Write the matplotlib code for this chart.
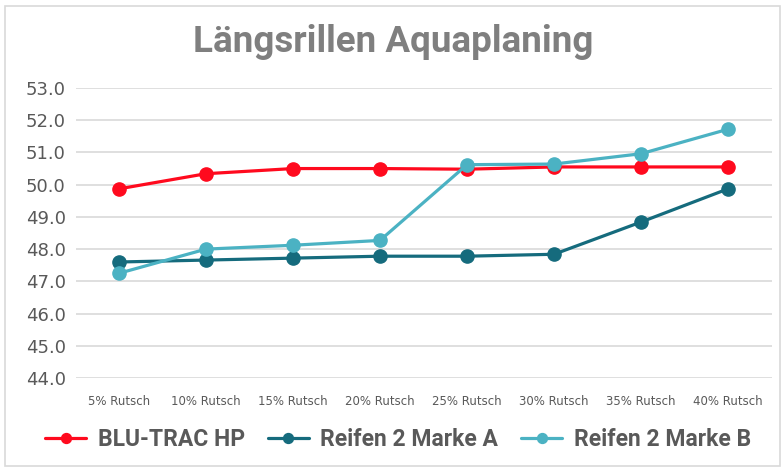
import matplotlib
matplotlib.use('Agg')
import matplotlib.pyplot as plt
from matplotlib.patches import Rectangle

categories = ['5% Rutsch', '10% Rutsch', '15% Rutsch', '20% Rutsch',
              '25% Rutsch', '30% Rutsch', '35% Rutsch', '40% Rutsch']
blu_trac = [49.87, 50.34, 50.50, 50.50, 50.48, 50.55, 50.55, 50.55]
marke_a = [47.60, 47.66, 47.72, 47.78, 47.78, 47.84, 48.84, 49.87]
marke_b = [47.25, 48.00, 48.12, 48.27, 50.62, 50.64, 50.96, 51.72]
yticks = [44.0, 45.0, 46.0, 47.0, 48.0, 49.0, 50.0, 51.0, 52.0, 53.0]

series = [
    ('BLU-TRAC HP', blu_trac, '#FF0A1E'),
    ('Reifen 2 Marke A', marke_a, '#156B7D'),
    ('Reifen 2 Marke B', marke_b, '#4BB2C3'),
]

bold_font = ['Roboto', 'DejaVu Sans']

fig = plt.figure(figsize=(7.82, 4.68), dpi=100)
fig.patches.append(Rectangle((0.007, 0.005), 0.99, 0.982, transform=fig.transFigure,
                             fill=False, edgecolor='#d9d9d9', linewidth=1.2))
ax = fig.add_axes([75.5 / 782, 1 - 378 / 468, 696 / 782, 290 / 468])

x = list(range(len(categories)))
for name, vals, col in series:
    ax.plot(x, vals, color=col, lw=2.3, marker='o', markersize=9.5,
            solid_capstyle='round', label=name, zorder=3)

ax.set_xlim(-0.5, len(categories) - 0.5)
ax.set_ylim(44.0, 53.0)
ax.set_yticks(yticks)
ax.set_yticklabels([f'{v:.1f}' for v in yticks], color='#595959', fontsize=13)
ax.set_xticks(x)
ax.set_xticklabels(categories, color='#595959', fontsize=8.5)
ax.tick_params(axis='both', length=0)
ax.tick_params(axis='y', pad=7)
ax.tick_params(axis='x', pad=12)
ax.grid(axis='y', color='#d9d9d9', lw=1.2)
ax.set_axisbelow(True)
for s in ax.spines.values():
    s.set_visible(False)

fig.text(0.503, 1 - 52 / 468, 'Längsrillen Aquaplaning', ha='center', va='baseline',
         fontsize=26.5, fontweight='bold', color='#7f7f7f', family=bold_font)

leg = fig.legend(loc='center', bbox_to_anchor=(0.509, 0.06), ncol=3, frameon=False,
                 prop={'family': bold_font, 'weight': 'bold', 'size': 16.5},
                 handlelength=1.8, columnspacing=1.0, handletextpad=0.5,
                 markerscale=0.75)
for t in leg.get_texts():
    t.set_color('#595959')

fig.savefig('out.png', dpi=100)
